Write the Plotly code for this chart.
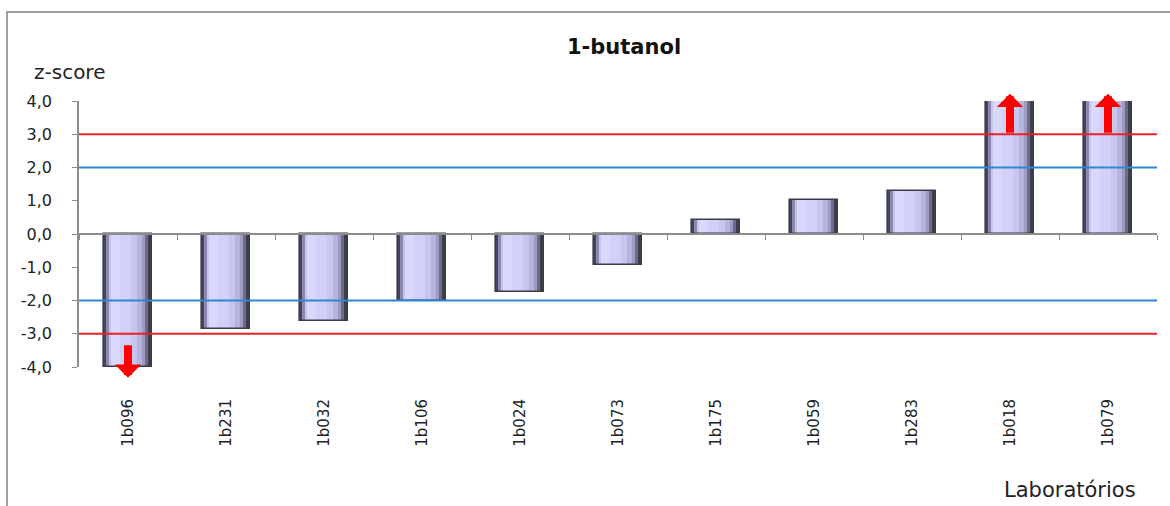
import plotly.graph_objects as go

# z-scores per laboratory, 1-butanol round
labs = ["1b096", "1b231", "1b032", "1b106", "1b024", "1b073",
        "1b175", "1b059", "1b283", "1b018", "1b079"]
z_scores = [-4.0, -2.85, -2.62, -2.0, -1.74, -0.93, 0.43, 1.02, 1.30, 4.0, 4.0]

y_ticks = [4, 3, 2, 1, 0, -1, -2, -3, -4]
y_tick_text = ["4,0", "3,0", "2,0", "1,0", "0,0", "-1,0", "-2,0", "-3,0", "-4,0"]

warn_limit = 2.0      # |z| <= 2 satisfactory
action_limit = 3.0    # |z| >= 3 unsatisfactory
axis_limit = 4.0      # scores at or beyond this are off the scale

FONT = "DejaVu Sans"
BAR_W = 0.48

# vertical strips giving the bars a shaded, cylinder-like look
strips = [
    (0.00, 0.05, "#44445a"),
    (0.05, 0.09, "#8a8aae"),
    (0.09, 0.14, "#c4c4ec"),
    (0.14, 0.34, "#d8d8fd"),
    (0.34, 0.56, "#d0d0f8"),
    (0.56, 0.70, "#c6c6ee"),
    (0.70, 0.80, "#b4b4dc"),
    (0.80, 0.87, "#9c9cc2"),
    (0.87, 0.92, "#6c6c88"),
    (0.92, 1.00, "#3e3e4e"),
]

fig = go.Figure()

for f0, f1, col in strips:
    fig.add_trace(go.Bar(
        x=labs, y=z_scores, xaxis="x2", yaxis="y",
        width=BAR_W * (f1 - f0), offset=-BAR_W / 2 + BAR_W * f0,
        marker=dict(color=col, line=dict(width=0)),
        hoverinfo="skip", showlegend=False,
    ))

# dark outline around each bar
fig.add_trace(go.Bar(
    x=labs, y=z_scores, xaxis="x2", yaxis="y",
    width=BAR_W, offset=-BAR_W / 2,
    marker=dict(color="rgba(0,0,0,0)", line=dict(color="#3a3a48", width=1.6)),
    showlegend=False,
))

# invisible trace that carries the category labels on the bottom axis
fig.add_trace(go.Scatter(
    x=labs, y=[0] * len(labs), xaxis="x", yaxis="y",
    mode="markers", marker=dict(opacity=0), hoverinfo="skip", showlegend=False,
))

# limit lines at +/-2 (blue) and +/-3 (red)
for lim, col in [(warn_limit, "#2f86d6"), (-warn_limit, "#2f86d6"),
                 (action_limit, "#ec2028"), (-action_limit, "#ec2028")]:
    fig.add_shape(type="line", xref="paper", yref="y", x0=0, x1=1, y0=lim, y1=lim,
                  line=dict(color=col, width=2), layer="above")

# outer chart frame
fig.add_shape(type="rect", xref="paper", yref="paper",
              x0=-0.0668, x1=1.05, y0=-0.6, y1=1.3346,
              line=dict(color="#a0a0a0", width=2), layer="below")

# red arrows marking scores beyond the plotted scale
for lab, z in zip(labs, z_scores):
    if abs(z) >= axis_limit:
        if z > 0:
            tail, tip = action_limit, axis_limit + 0.22
        else:
            tail, tip = -action_limit - 0.3, -axis_limit - 0.32
        fig.add_annotation(
            x=lab, y=tip, ax=lab, ay=tail,
            xref="x2", yref="y", axref="x2", ayref="y",
            showarrow=True, arrowhead=1, arrowsize=0.55, arrowwidth=8,
            arrowcolor="#ff0000", text="",
        )

fig.add_annotation(text="<b>1-butanol</b>", xref="paper", yref="paper",
                   x=0.5056, y=1.2556, showarrow=False,
                   font=dict(family=FONT, size=21, color="#111111"))
fig.add_annotation(text="z-score", xref="paper", yref="paper",
                   x=-0.0436, y=1.109, xanchor="left", yanchor="middle",
                   showarrow=False, font=dict(family=FONT, size=20, color="#222222"))
fig.add_annotation(text="Laboratórios", xref="paper", yref="paper",
                   x=0.9824, y=-0.4624, xanchor="right", yanchor="middle",
                   showarrow=False, font=dict(family=FONT, size=21, color="#222222"))

fig.update_layout(
    width=1170, height=506,
    margin=dict(l=79, r=13, t=101, b=139),
    paper_bgcolor="white", plot_bgcolor="white",
    barmode="overlay", bargap=0,
    font=dict(family=FONT, size=16, color="#222222"),
    xaxis=dict(
        type="category", range=[-0.5, len(labs) - 0.5],
        showline=False, showgrid=False, zeroline=False,
        ticks="outside", ticklen=25, tickcolor="rgba(0,0,0,0)",
        tickangle=-90, tickfont=dict(family=FONT, size=15, color="#222222"),
        fixedrange=True,
    ),
    xaxis2=dict(
        type="category", overlaying="x", anchor="free", position=0.5, side="bottom",
        range=[-0.5, len(labs) - 0.5],
        showline=True, linecolor="#8c8c8c", linewidth=1.5,
        ticks="outside", tickson="boundaries", ticklen=5, tickcolor="#8c8c8c",
        showticklabels=False, showgrid=False, zeroline=False,
    ),
    yaxis=dict(
        range=[-axis_limit, axis_limit], tickvals=y_ticks, ticktext=y_tick_text,
        showline=True, linecolor="#8c8c8c", linewidth=1.5,
        ticks="outside", ticklen=5, tickcolor="#8c8c8c",
        ticklabelstandoff=17,
        showgrid=False, zeroline=False,
        tickfont=dict(family=FONT, size=16, color="#222222"),
    ),
)

fig.write_html("out.html")
